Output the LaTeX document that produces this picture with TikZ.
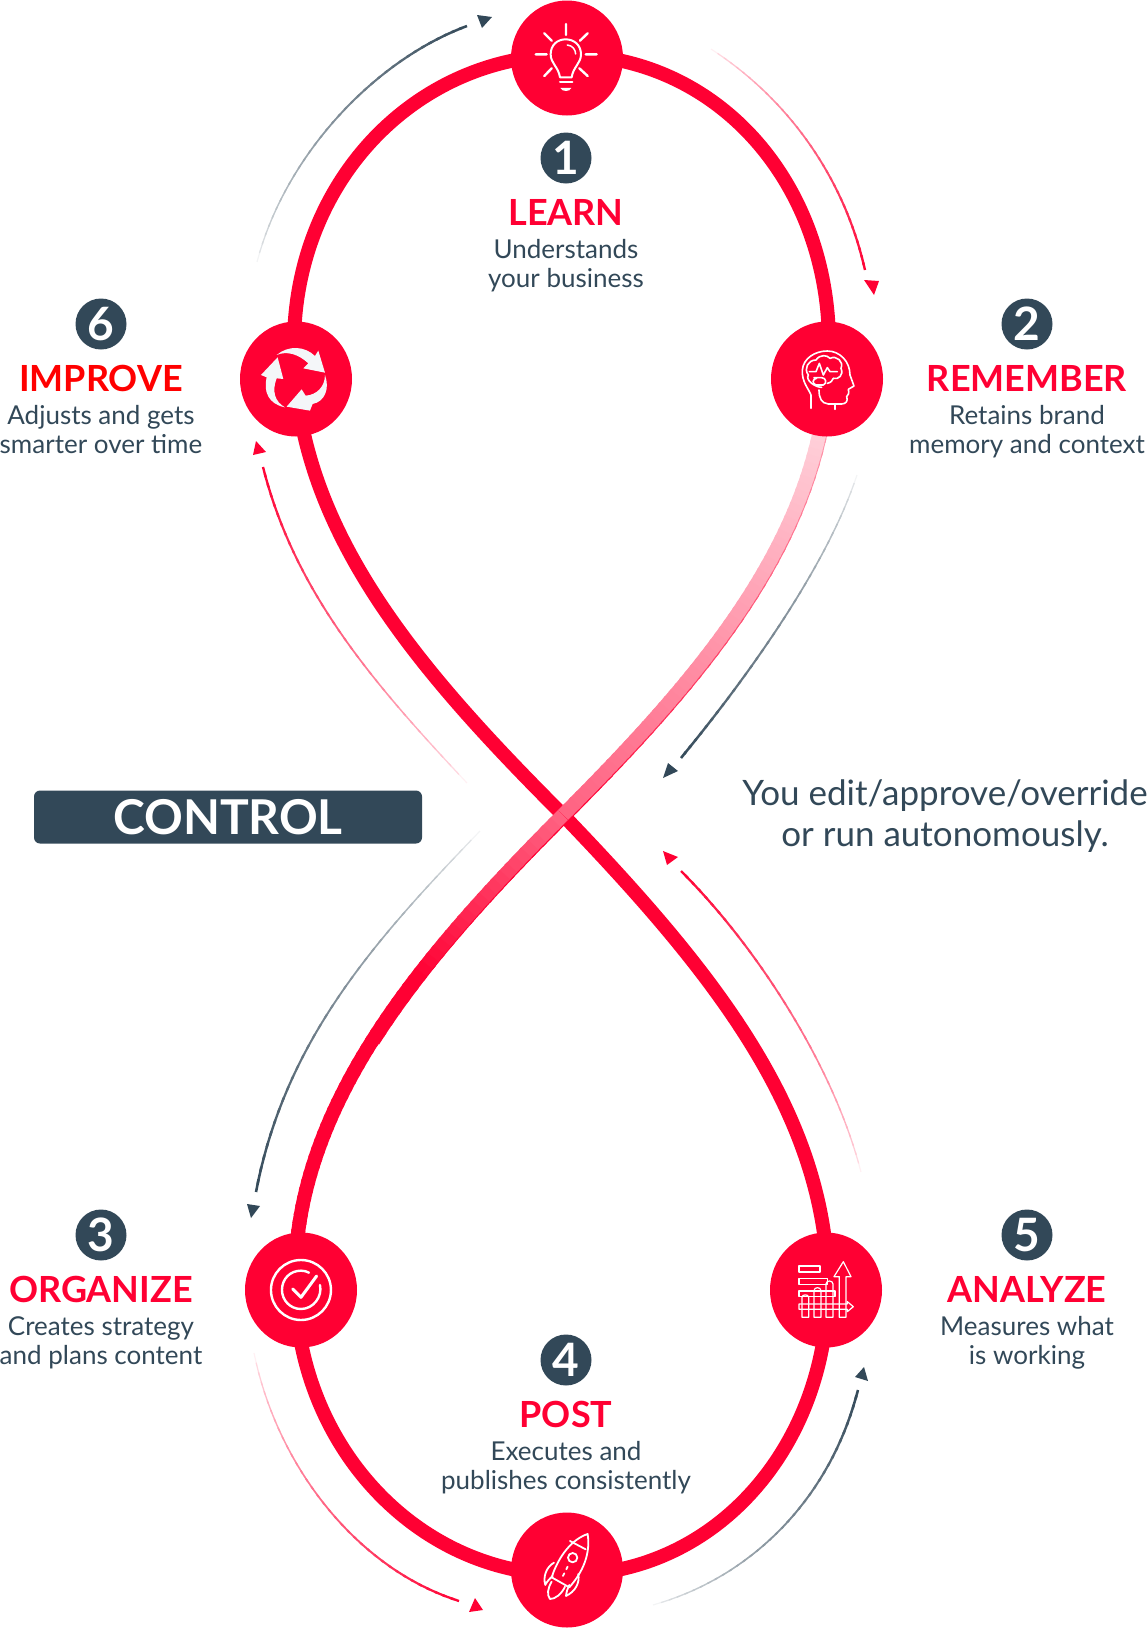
\documentclass[tikz,border=0pt]{standalone}
\usepackage{fontspec}
\usetikzlibrary{shapes.geometric}
\setmainfont{Lato}
\definecolor{brand}{HTML}{FF0033}
\definecolor{slate}{HTML}{324858}
\definecolor{iconw}{HTML}{F4F6F9}
\newcommand{\setbez}[8]{\def\ax{#1}\def\ay{#2}\def\bx{#3}\def\by{#4}\def\cx{#5}\def\cy{#6}\def\dx{#7}\def\dy{#8}}
\newcommand{\bezpt}[3]{%
  \pgfmathsetmacro{\uu}{1-#1}%
  \pgfmathsetmacro{\kA}{\uu*\uu*\uu}\pgfmathsetmacro{\kB}{3*\uu*\uu*#1}%
  \pgfmathsetmacro{\kC}{3*\uu*#1*#1}\pgfmathsetmacro{\kD}{#1*#1*#1}%
  \pgfmathsetmacro{#2}{\kA*\ax+\kB*\bx+\kC*\cx+\kD*\dx}%
  \pgfmathsetmacro{#3}{\kA*\ay+\kB*\by+\kC*\cy+\kD*\dy}}
\def\fademap{\ta}
% colour, start %, end %, start width, end width, segments
\newcommand{\gradstroke}[6]{%
  \foreach \ii in {1,...,#6}{%
    \pgfmathsetmacro{\ta}{(\ii-1)/#6}%
    \pgfmathsetmacro{\tb}{min(1,(\ii+0.35)/#6)}%
    \bezpt{\ta}{\pax}{\pay}\bezpt{\tb}{\pbx}{\pby}%
    \pgfmathsetmacro{\pct}{min(100,#2+(#3-#2)*\fademap)}%
    \pgfmathsetmacro{\wid}{#4+(#5-#4)*\ta}%
    \draw[line width=\wid pt,color={#1!\pct!white}] (\pax,\pay) -- (\pbx,\pby);
  }}
\newcommand{\stepblock}[7]{%
  \node[badge] (#1) at (#2,#3) {#4};
  \node[steptitle] (#1t) at (#2,#3+67) {#5};
  \node[stepbody] (#1a) at (#2,#3+100.5) {#6};
  \node[stepbody] (#1b) at (#2,#3+129.5) {#7};}
\tikzset{
  strand/.style={draw=brand,line width=14pt},
  hub/.style={ellipse,fill=brand,minimum width=112pt,minimum height=115pt,inner sep=0pt},
  badge/.style={circle,fill=slate,minimum size=51pt,inner sep=0pt,text=white,font=\fontsize{46}{46}\selectfont\bfseries},
  steptitle/.style={anchor=base,inner sep=0pt,text=brand,font=\fontsize{36}{36}\selectfont\bfseries},
  stepbody/.style={anchor=base,inner sep=0pt,text=slate,font=\fontsize{26}{26}\selectfont},
  icn/.style={draw=white,line width=2pt,line cap=round,line join=round},
  icnt/.style={draw=white,line width=1.2pt,line join=round},
  headd/.style={fill=#1,draw=none},
  note/.style={anchor=base,inner sep=0pt,text=slate,font=\fontsize{35}{35}\selectfont},
}
\begin{document}
\begin{tikzpicture}[x=1pt,y=-1pt]
\useasboundingbox (0,0) rectangle (1147,1628);
% named way points of the figure eight
\coordinate (ptop) at (567,55);
\coordinate (pur) at (829,345);
\coordinate (pul) at (294,345);
\coordinate (pcross) at (563,815);
\coordinate (pll) at (295,1280);
\coordinate (plr) at (828,1285);
\coordinate (pbot) at (567,1575);
% main strands
\draw[strand] (pul) .. controls (294,180) and (417,55) .. (ptop) .. controls (715,55) and (829,180) .. (pur);
\draw[strand] (pul) .. controls (294,525) and (413,665) .. (pcross) .. controls (709,967) and (826,1110) .. (plr);
\draw[strand] (pll) .. controls (295,1445) and (417,1575) .. (pbot) .. controls (717,1575) and (828,1445) .. (plr);
% gradient strand
\setbez{829}{345}{829}{525}{713}{665}{563}{815}
\begin{scope}[shift={(0.9,0.9)}]\gradstroke{brand}{30}{100}{14}{14}{40}\end{scope}
\gradstroke{brand}{10}{62}{14}{14}{70}
\setbez{563}{815}{488}{890}{421}{963.75}{372.75}{1040}
\begin{scope}[shift={(0.9,0.9)}]\gradstroke{brand}{100}{100}{14}{13}{20}\end{scope}
\setbez{563}{815}{413}{965}{295}{1110}{295}{1280}
\gradstroke{brand}{62}{170}{14}{14}{60}
% thin arrows
\def\fademap{(0.5*\ta+0.5*sqrt(\ta))}
\setbez{257}{262}{285}{155}{375}{60}{467}{26}
\gradstroke{slate}{6}{100}{1.2}{2.6}{36}
\fill[headd=slate] (477,15) -- (492,17) -- (482,28) -- cycle;
\setbez{711}{49}{790}{100}{845}{180}{865}{270}
\gradstroke{brand}{6}{100}{1.2}{2.4}{36}
\fill[headd=brand] (864,280) -- (879,281) -- (874,295) -- cycle;
\setbez{857}{475}{826}{570}{741}{685}{681}{758}
\gradstroke{slate}{6}{100}{1.2}{2.6}{36}
\fill[headd=slate] (678,771) -- (668,763) -- (663,778) -- cycle;
\setbez{480}{831}{375}{940}{285}{1040}{256}{1192}
\gradstroke{slate}{6}{100}{1.2}{2.6}{36}
\fill[headd=slate] (247,1204) -- (260,1206) -- (251,1218) -- cycle;
\setbez{254}{1353}{278}{1470}{360}{1570}{459}{1601}
\gradstroke{brand}{6}{100}{1.2}{2.4}{36}
\fill[headd=brand] (475,1598) -- (483,1610) -- (469,1612) -- cycle;
\setbez{653}{1605}{750}{1578}{830}{1500}{858}{1390}
\gradstroke{slate}{6}{100}{1.2}{2.6}{36}
\fill[headd=slate] (864,1367) -- (868,1381) -- (855,1377) -- cycle;
\setbez{861}{1172}{835}{1070}{760}{950}{681}{871}
\gradstroke{brand}{6}{100}{1.2}{2.4}{36}
\fill[headd=brand] (663,851) -- (678,857) -- (667,865) -- cycle;
\setbez{467}{783}{370}{680}{294}{590}{263}{467}
\gradstroke{brand}{6}{100}{1.2}{2.4}{36}
\fill[headd=brand] (256,441) -- (266,452) -- (253,455) -- cycle;
% hubs
\node[hub] (n1) at (567,58) {};
\node[hub] (n2) at (827,379) {};
\node[hub] (n3) at (301,1290) {};
\node[hub] (n4) at (567,1570) {};
\node[hub] (n5) at (826,1290) {};
\node[hub] (n6) at (296,379) {};
% bulb
\begin{scope}[shift={(450,0)},x=0.3333pt,y=-0.3333pt]
\draw[icn,line width=2.4pt] (348,72)--(348,105) (283,100)--(305,122) (413,100)--(390,122) (257,163)--(290,163) (407,163)--(440,163) (283,228)--(305,205) (413,228)--(388,205);
\draw[icn] (330,232) .. controls (325,200) and (302,190) .. (302,163) .. controls (302,135) and (322,118) .. (347,118) .. controls (372,118) and (393,135) .. (393,163) .. controls (393,190) and (370,200) .. (365,232) -- cycle;
\draw[icn,line width=1.5pt] (352,135) .. controls (368,137) and (376,148) .. (377,162);
\draw[icn] (330,245)--(367,245);
\fill[white] (331,264) -- (364,264) .. controls (360,276) and (336,276) .. (331,264) -- cycle;
\end{scope}
% head and brain
\begin{scope}[shift={(740,280)},x=0.3333pt,y=-0.3333pt]
\draw[icn,line width=1.6pt] (213,385) -- (213,345) .. controls (205,325) and (185,305) .. (187,270) .. controls (190,235) and (225,213) .. (262,213) .. controls (300,213) and (330,245) .. (330,285) -- (342,318) -- (325,328) .. controls (328,340) and (325,345) .. (320,350) .. controls (325,362) and (318,372) .. (305,372) -- (265,372) .. controls (245,370) and (237,355) .. (237,330);
\draw[icn,line width=1.6pt] (285,372) -- (285,388);
\draw[icn,line width=1.6pt] (245,322) .. controls (225,322) and (195,300) .. (205,285) .. controls (190,265) and (205,240) .. (228,240) .. controls (240,222) and (262,225) .. (270,235) .. controls (290,225) and (312,245) .. (303,265) .. controls (312,285) and (295,300) .. (280,295);
\draw[icn,line width=1.6pt] (208,275) -- (228,275) -- (238,250) -- (250,285) -- (262,263) -- (270,275) -- (292,275);
\draw[icn,line width=1.6pt] (222,293) -- (245,293) .. controls (258,293) and (262,310) .. (250,315) -- (228,315) .. controls (215,312) and (218,295) .. (230,295);
\draw[icn,line width=1.6pt] (262,310) .. controls (272,308) and (278,302) .. (280,295);
\end{scope}
% recycle arrows
\begin{scope}[shift={(0,280)},x=0.3333pt,y=-0.3333pt]
\fill[iconw] (855,382) .. controls (805,372) and (790,335) .. (800,292) -- (783,285) -- (833,232) -- (850,297) -- (830,295) .. controls (815,335) and (825,365) .. (855,382) -- cycle;
\fill[iconw] (830,225) .. controls (865,195) and (915,198) .. (945,228) -- (955,212) -- (975,278) -- (910,265) -- (925,250) .. controls (895,222) and (860,212) .. (830,225) -- cycle;
\fill[iconw] (975,285) .. controls (990,325) and (975,365) .. (938,372) -- (930,392) -- (860,380) -- (905,328) -- (917,347) .. controls (950,345) and (975,320) .. (975,285) -- cycle;
\end{scope}
% target check
\begin{scope}[shift={(0,1190)},x=0.3333pt,y=-0.3333pt]
\draw[icn,line width=2.4pt] (903,300) circle [x radius=90,y radius=90];
\draw[icn,line width=2.4pt] (960,285) .. controls (968,320) and (940,357) .. (903,357) .. controls (870,357) and (846,330) .. (846,300) .. controls (846,265) and (872,242) .. (903,242) .. controls (912,242) and (920,244) .. (927,248);
\draw[icn,line width=3pt] (878,297) -- (903,322) -- (950,258);
\end{scope}
% chart
\begin{scope}[shift={(740,1190)},x=0.3333pt,y=-0.3333pt]
\draw[icnt] (177,228) rectangle (240,246);
\draw[icnt] (177,265) rectangle (262,283);
\draw[icnt] (177,303) rectangle (285,320);
\draw[icnt] (177,342) -- (322,342) -- (322,335) -- (340,350) -- (322,365) -- (322,358) -- (177,358) -- cycle;
\draw[icnt] (186,382) -- (186,322) .. controls (186,312) and (206,312) .. (206,322) -- (206,382) -- cycle;
\draw[icnt] (222,382) -- (222,302) .. controls (222,290) and (243,290) .. (243,302) -- (243,382) -- cycle;
\draw[icnt] (258,382) -- (258,282) .. controls (258,270) and (279,270) .. (279,282) -- (279,382) -- cycle;
\draw[icnt] (298,382) -- (298,260) -- (282,260) -- (310,215) -- (333,260) -- (318,260) -- (318,382) -- cycle;
\end{scope}
% rocket
\begin{scope}[shift={(420,1340)},x=0.3333pt,y=-0.3333pt]
\draw[icn,line width=1.8pt] (503,582) .. controls (455,598) and (415,650) .. (395,712) -- (448,742) .. controls (490,695) and (512,640) .. (503,582) -- cycle;
\draw[icn,line width=1.8pt] (450,603) -- (497,628);
\draw[icn,line width=1.8pt] (458,653) circle [x radius=14,y radius=14];
\draw[icn,line width=1.8pt] (443,680) -- (439,688) (433,700) -- (429,708);
\draw[icn,line width=1.8pt] (402,668) .. controls (380,680) and (368,710) .. (376,735) .. controls (380,725) and (390,715) .. (398,708);
\draw[icn,line width=1.8pt] (475,702) .. controls (480,730) and (465,755) .. (438,768) .. controls (440,755) and (442,745) .. (448,735);
\draw[icn,line width=1.8pt] (395,725) .. controls (383,745) and (380,765) .. (390,777) .. controls (405,778) and (425,762) .. (435,740);
\end{scope}
% steps
\stepblock{s1}{566}{158}{1}{LEARN}{Understands}{your business}
\stepblock{s2}{1027}{324}{2}{REMEMBER}{Retains brand}{memory and context}
\stepblock{s3}{101}{1235}{3}{ORGANIZE}{Creates strategy}{and plans content}
\stepblock{s4}{566}{1360}{4}{POST}{Executes and}{publishes consistently}
\stepblock{s5}{1027}{1235}{5}{ANALYZE}{Measures what}{is working}
\node[badge] (s6) at (101,324) {6};
\node[steptitle,text={rgb,255:red,255;green,0;blue,0}] (s6t) at (101,391) {IMPROVE};
\node[stepbody] (s6a) at (101,424.5) {Adjusts and gets};
\node[stepbody] (s6b) at (101,453.5) {smarter over time};
% control
\node[fill=slate,rounded corners=6pt,minimum width=388pt,minimum height=53pt,inner sep=0pt,text=white,font=\fontsize{48}{48}\selectfont\bfseries] (ctl) at (228,817) {CONTROL};
\node[note] (ca) at (945,805) {You edit/approve/override};
\node[note] (cb) at (945,846) {or run autonomously.};
\end{tikzpicture}
\end{document}
